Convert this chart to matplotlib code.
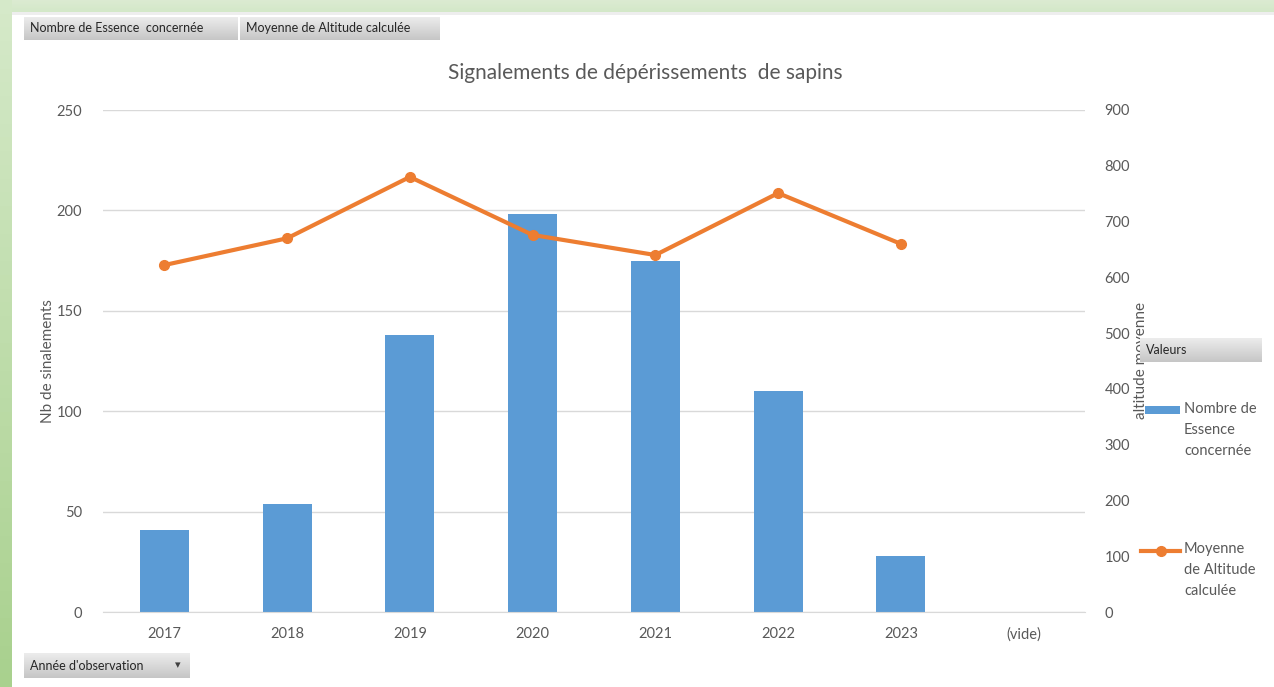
import numpy as np
import matplotlib.pyplot as plt
from matplotlib.patches import Rectangle
from matplotlib.colors import LinearSegmentedColormap

plt.rcParams['font.family'] = ['Lato', 'DejaVu Sans']

# data
annees = ['2017', '2018', '2019', '2020', '2021', '2022', '2023', '(vide)']
nb_signalements = [41, 54, 138, 198, 175, 110, 28]
altitude_moyenne = [622, 670, 780, 676, 640, 751, 660]

bleu = '#5b9bd5'
orange = '#ed7d31'
gris_txt = '#595959'

W, H = 1274, 687
fig = plt.figure(figsize=(W / 100, H / 100), dpi=100)
fig.patch.set_facecolor('white')

# plot area (pixel coords of the reference)
x0, x1, ytop, ybot = 103, 1085, 110, 612
ax = fig.add_axes([x0 / W, 1 - ybot / H, (x1 - x0) / W, (ybot - ytop) / H])
ax2 = ax.twinx()

x = np.arange(len(annees))
ax.bar(x[:len(nb_signalements)], nb_signalements, width=0.4, color=bleu, zorder=2)
ax.set_ylim(0, 250)
ax.set_yticks(np.arange(0, 251, 50))
ax.set_xlim(-0.5, len(annees) - 0.5)
ax.set_xticks(x)
ax.set_xticklabels(annees)
ax.grid(axis='y', color='#d9d9d9', linewidth=1, zorder=0)
ax.set_axisbelow(True)

ax2.plot(x[:len(altitude_moyenne)], altitude_moyenne, color=orange, linewidth=3,
         marker='o', markersize=7, solid_capstyle='round', zorder=3)
ax2.set_ylim(0, 900)
ax2.set_yticks(np.arange(0, 901, 100))

for a in (ax, ax2):
    for s in a.spines.values():
        s.set_visible(False)
    a.tick_params(length=0, colors=gris_txt, labelsize=10.5)
ax.tick_params(axis='x', pad=11)
ax.tick_params(axis='y', pad=15)
ax2.tick_params(axis='y', pad=14)
ax.spines['bottom'].set_visible(True)
ax.spines['bottom'].set_color('#d9d9d9')

ax.set_ylabel('Nb de sinalements', color=gris_txt, fontsize=11)
ax.yaxis.set_label_coords((55 - x0) / (x1 - x0), 0.5)
ax2.set_ylabel('altitude moyenne', color=gris_txt, fontsize=11)
ax2.yaxis.set_label_coords((1134 - x0) / (x1 - x0), 0.5)

fig.text(645 / W, 1 - 73 / H, 'Signalements de dépérissements  de sapins',
         ha='center', va='center', fontsize=15, color=gris_txt)

# overlay for borders, field buttons and legend
ov = fig.add_axes([0, 0, 1, 1], zorder=5)
ov.set_xlim(0, W)
ov.set_ylim(H, 0)
ov.axis('off')
ov.patch.set_visible(False)

grad_v = np.linspace(0, 1, 50).reshape(-1, 1)
vert_top = LinearSegmentedColormap.from_list('vt', ['#dcebd2', '#d3e8c8'])
vert_gauche = LinearSegmentedColormap.from_list('vg', ['#d5e9c9', '#a9d18e'])
ov.imshow(grad_v, cmap=vert_top, extent=(0, W, 12, 0), aspect='auto')
ov.imshow(grad_v, cmap=vert_gauche, extent=(0, 12, H, 0), aspect='auto')
ov.add_patch(Rectangle((12, 12), W - 12, 3, color='#eeeeee', lw=0))

bouton = LinearSegmentedColormap.from_list('bt', ['#ececec', '#c6c6c6'])


def bouton_champ(xa, xb, ya, yb, texte, fleche=False):
    ov.imshow(grad_v, cmap=bouton, extent=(xa, xb, yb, ya), aspect='auto')
    ov.text(xa + 6, (ya + yb) / 2, texte, ha='left', va='center',
            fontsize=9, color='#262626')
    if fleche:
        ov.text(xb - 12, (ya + yb) / 2, '▾', ha='center', va='center',
                fontsize=8, color='#404040', family='DejaVu Sans')


bouton_champ(24, 238, 17, 40, 'Nombre de Essence  concernée')
bouton_champ(240, 440, 17, 40, 'Moyenne de Altitude calculée')
bouton_champ(1140, 1262, 338, 362, 'Valeurs')
bouton_champ(24, 190, 653, 678, "Année d'observation", fleche=True)

# legend
ov.add_patch(Rectangle((1145, 406), 35, 8, color=bleu, lw=0))
ov.text(1184, 402, 'Nombre de\nEssence\nconcernée', ha='left', va='top',
        fontsize=10.5, color=gris_txt, linespacing=1.65)
ov.plot([1141, 1180], [551, 551], color=orange, linewidth=3)
ov.plot([1160.5], [551], 'o', color=orange, markersize=7)
ov.text(1184, 542, 'Moyenne\nde Altitude\ncalculée', ha='left', va='top',
        fontsize=10.5, color=gris_txt, linespacing=1.65)

fig.savefig('out.png', dpi=100)
